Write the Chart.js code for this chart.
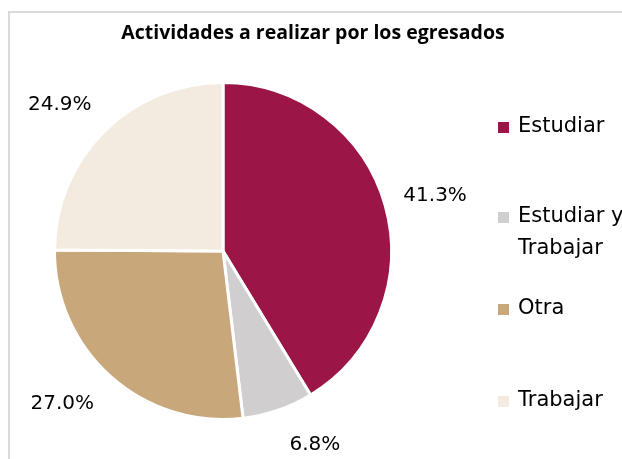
<!DOCTYPE html>
<html>
<head>
<meta charset="utf-8">
<script src="https://cdn.jsdelivr.net/npm/chart.js@4/dist/chart.umd.min.js"></script>
<style>
  html, body { margin: 0; padding: 0; background: #fff; overflow: hidden; }
  #wrap { width: 622px; height: 459px; position: relative; }
  canvas { display: block; }
</style>
</head>
<body>
<div id="wrap"><canvas id="pieChart" width="622" height="459"></canvas></div>
<script>
const title = 'Actividades a realizar por los egresados';
const categories = ['Estudiar', ['Estudiar y', 'Trabajar'], 'Otra', 'Trabajar'];
const values = [41.3, 6.8, 27.0, 24.9];
const colors = ['#9B1646', '#D0CECF', '#C8A77A', '#F3EBDF'];
const legendY = [127, 217, 309, 401];
// small sideways shift of a label, like Excel's best fit
const labelNudge = [0, 22, -14, -8];

const labelFont = '"DejaVu Sans", sans-serif';

const extras = {
    id: 'extras',
    beforeDraw(chart) {
        const ctx = chart.ctx;
        ctx.save();
        ctx.fillStyle = '#fff';
        ctx.fillRect(0, 0, chart.width, chart.height);
        ctx.strokeStyle = '#D9D9D9';
        ctx.lineWidth = 2;
        ctx.beginPath();
        ctx.moveTo(9, chart.height);
        ctx.lineTo(9, 12);
        ctx.lineTo(chart.width + 2, 12);
        ctx.stroke();
        ctx.restore();
    },
    afterDraw(chart) {
        const ctx = chart.ctx;
        ctx.save();
        // title
        ctx.fillStyle = '#000';
        ctx.font = 'bold 19.5px "Open Sans", sans-serif';
        ctx.textAlign = 'center';
        ctx.textBaseline = 'middle';
        ctx.fillText(title, 313, 33);

        // percentage labels outside each slice
        ctx.font = '20px ' + labelFont;
        const arcs = chart.getDatasetMeta(0).data;
        arcs.forEach((arc, i) => {
            const txt = values[i].toFixed(1) + '%';
            const w = ctx.measureText(txt).width;
            const h = 17;
            const mid = (arc.startAngle + arc.endAngle) / 2;
            const r = arc.outerRadius + 20;
            const c = Math.cos(mid), s = Math.sin(mid);
            const x = arc.x + c * r + c * w / 2 + labelNudge[i];
            const y = arc.y + s * r + s * h;
            ctx.fillText(txt, x, y);
        });

        // legend
        ctx.font = '21px ' + labelFont;
        ctx.textAlign = 'left';
        categories.forEach((c, i) => {
            const y = legendY[i];
            ctx.fillStyle = colors[i];
            ctx.fillRect(498, y - 5, 11, 11);
            ctx.fillStyle = '#000';
            const lines = Array.isArray(c) ? c : [c];
            lines.forEach((t, j) => ctx.fillText(t, 518, y + j * 32));
        });
        ctx.restore();
    }
};

new Chart(document.getElementById('pieChart'), {
    type: 'pie',
    data: {
        labels: categories.map(c => Array.isArray(c) ? c.join(' ') : c),
        datasets: [{
            data: values,
            backgroundColor: colors,
            borderColor: '#fff',
            borderWidth: 3,
        }]
    },
    options: {
        responsive: false,
        animation: false,
        layout: {
            padding: { left: 53, right: 229, top: 81, bottom: 38 }
        },
        plugins: {
            legend: { display: false },
            tooltip: { enabled: false },
        }
    },
    plugins: [extras]
});
</script>
</body>
</html>
